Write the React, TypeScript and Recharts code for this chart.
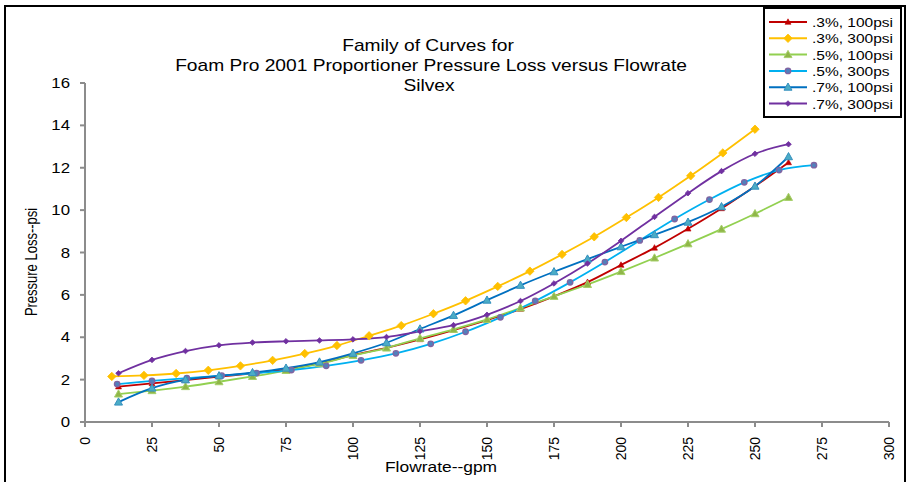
import { LineChart, Line, XAxis, YAxis, Legend } from 'recharts'

// flowrate (gpm) sample points, per series family
const gpmStep125 = [12.5, 25, 37.5, 50, 62.5, 75, 87.5, 100, 112.5, 125, 137.5, 150, 162.5, 175, 187.5, 200, 212.5, 225, 237.5, 250, 262.5]
const gpmYellow = [10, 22, 34, 46, 58, 70, 82, 94, 106, 118, 130, 142, 154, 166, 178, 190, 202, 214, 226, 238, 250]
const gpmLightBlue = [12, 25, 38, 51, 64, 77, 90, 103, 116, 129, 142, 155, 168, 181, 194, 207, 220, 233, 246, 259, 272]

// pressure loss (psi)
const p3_100 = [1.67, 1.82, 1.98, 2.14, 2.3, 2.48, 2.77, 3.16, 3.5, 3.9, 4.34, 4.81, 5.33, 5.93, 6.6, 7.41, 8.22, 9.12, 10.08, 11.13, 12.25]
const p3_300 = [2.15, 2.2, 2.29, 2.44, 2.65, 2.91, 3.23, 3.61, 4.07, 4.55, 5.11, 5.72, 6.4, 7.12, 7.91, 8.74, 9.65, 10.6, 11.62, 12.7, 13.82]
const p5_100 = [1.32, 1.48, 1.67, 1.9, 2.15, 2.43, 2.75, 3.14, 3.49, 3.95, 4.37, 4.84, 5.38, 5.93, 6.49, 7.1, 7.74, 8.41, 9.1, 9.83, 10.6]
const p5_300 = [1.79, 1.94, 2.07, 2.19, 2.31, 2.45, 2.65, 2.91, 3.24, 3.69, 4.26, 4.94, 5.71, 6.59, 7.55, 8.57, 9.58, 10.5, 11.31, 11.89, 12.12]
const p7_100 = [0.94, 1.6, 1.99, 2.18, 2.33, 2.54, 2.83, 3.24, 3.74, 4.39, 5.03, 5.75, 6.45, 7.09, 7.69, 8.27, 8.84, 9.43, 10.16, 11.13, 12.52]
const p7_300 = [2.3, 2.93, 3.35, 3.62, 3.75, 3.81, 3.85, 3.9, 4.01, 4.28, 4.57, 5.06, 5.71, 6.54, 7.48, 8.55, 9.68, 10.8, 11.84, 12.66, 13.11]

const xTicks = [0, 25, 50, 75, 100, 125, 150, 175, 200, 225, 250, 275, 300]
const yTicks = [0, 2, 4, 6, 8, 10, 12, 14, 16]

const FONT = '"Liberation Sans", Arial, sans-serif'

const toPoints = (xs: number[], ys: number[]) => xs.map((x, i) => ({ x, y: ys[i] }))

type MarkerKind = 'triSmall' | 'tri' | 'diamond' | 'diamondSmall' | 'circle'

const SERIES = [
  { name: '.3%, 100psi', xs: gpmStep125, ys: p3_100, color: '#C00000', marker: 'triSmall' as MarkerKind, fill: '#C00000', edge: '#C00000' },
  { name: '.3%, 300psi', xs: gpmYellow, ys: p3_300, color: '#FFC000', marker: 'diamond' as MarkerKind, fill: '#FFC000', edge: '#FFC000' },
  { name: '.5%, 100psi', xs: gpmStep125, ys: p5_100, color: '#92D050', marker: 'tri' as MarkerKind, fill: '#8FB648', edge: '#A6CF6A' },
  { name: '.5%, 300ps', xs: gpmLightBlue, ys: p5_300, color: '#00B0F0', marker: 'circle' as MarkerKind, fill: '#4F81BD', edge: '#8064A2' },
  { name: '.7%, 100psi', xs: gpmStep125, ys: p7_100, color: '#0070C0', marker: 'tri' as MarkerKind, fill: '#4BACC6', edge: '#3590BE' },
  { name: '.7%, 300psi', xs: gpmStep125, ys: p7_300, color: '#7030A0', marker: 'diamondSmall' as MarkerKind, fill: '#7030A0', edge: '#7030A0' },
]

function Marker({ kind, cx, cy, fill, edge }: { kind: MarkerKind; cx: number; cy: number; fill: string; edge: string }) {
  if (kind === 'circle') return <circle cx={cx} cy={cy} r={2.7} fill={fill} stroke={edge} strokeWidth={1.4} />
  if (kind === 'diamond' || kind === 'diamondSmall') {
    const h = kind === 'diamond' ? 4.2 : 2.8
    return <polygon points={`${cx},${cy - h} ${cx + h},${cy} ${cx},${cy + h} ${cx - h},${cy}`} fill={fill} stroke={edge} strokeWidth={0.8} />
  }
  const w = kind === 'tri' ? 4 : 3
  const t = kind === 'tri' ? 4.2 : 3.2
  const b = kind === 'tri' ? 3 : 2.3
  return <polygon points={`${cx},${cy - t} ${cx + w},${cy + b} ${cx - w},${cy + b}`} fill={fill} stroke={edge} strokeWidth={kind === 'tri' ? 1 : 0.6} />
}

const XTick = (props: any) => {
  const { x, y, payload } = props
  const ax = x + 5
  const ay = y + 8
  return (
    <text x={ax} y={ay} transform={`rotate(-90, ${ax}, ${ay})`} textAnchor="end" fontSize={14} fontFamily={FONT} fill="#000">
      {payload.value}
    </text>
  )
}

const YTick = (props: any) => {
  const { x, y, payload } = props
  return (
    <g transform={`translate(${x},${y}) scale(1.2,1)`}>
      <text x={0} y={0} dy={5} textAnchor="end" fontSize={14} fontFamily={FONT} fill="#000">
        {payload.value}
      </text>
    </g>
  )
}

const LegendBox = () => (
  <svg width={140} height={112} style={{ display: 'block' }}>
    <rect x={1} y={1} width={137} height={109} fill="#fff" stroke="#000" strokeWidth={2} />
    {SERIES.map((s, i) => {
      const cy = 15 + i * 16.3
      return (
        <g key={s.name}>
          <line x1={6} x2={44} y1={cy} y2={cy} stroke={s.color} strokeWidth={2} />
          <Marker kind={s.marker} cx={25} cy={cy} fill={s.fill} edge={s.edge} />
          <g transform={`translate(49,${cy + 5}) scale(1.15,1)`}>
            <text x={0} y={0} fontSize={13.5} fontFamily={FONT} fill="#000">{s.name}</text>
          </g>
        </g>
      )
    })}
  </svg>
)

export default function App() {
  return (
    <div style={{ position: 'absolute', left: 0, top: 0, width: 911, height: 482, background: '#fff', overflow: 'hidden' }}>
      <LineChart width={911} height={482} margin={{ top: 83, right: 22, left: 25, bottom: 10 }}>
        <XAxis
          type="number"
          dataKey="x"
          domain={[0, 300]}
          ticks={xTicks}
          interval={0}
          height={50}
          stroke="#8c8c8c"
          strokeWidth={2}
          tickSize={5}
          tick={<XTick />}
          allowDuplicatedCategory={false}
        />
        <YAxis
          type="number"
          domain={[0, 16]}
          ticks={yTicks}
          interval={0}
          width={60}
          stroke="#8c8c8c"
          strokeWidth={2}
          tickSize={5}
          tickMargin={10}
          tick={<YTick />}
        />
        <Legend
          layout="vertical"
          align="center"
          verticalAlign="middle"
          wrapperStyle={{ position: 'absolute', left: 763, top: 7, width: 140, height: 112 }}
          content={() => <LegendBox />}
        />
        {SERIES.map((s) => (
          <Line
            key={s.name}
            name={s.name}
            data={toPoints(s.xs, s.ys)}
            dataKey="y"
            type="monotone"
            stroke={s.color}
            strokeWidth={1.8}
            isAnimationActive={false}
            dot={(p: any) => <Marker key={`${s.name}-${p.index}`} kind={s.marker} cx={p.cx} cy={p.cy} fill={s.fill} edge={s.edge} />}
            activeDot={false}
          />
        ))}
      </LineChart>
      <svg width={911} height={482} style={{ position: 'absolute', left: 0, top: 0, pointerEvents: 'none' }}>
        <path d="M5,490 L5,6 L905,6 L905,490" fill="none" stroke="#000" strokeWidth={2} />
        <g fontFamily={FONT} fontSize={16} fill="#000">
          <g transform="translate(428,51) scale(1.2,1)">
            <text textAnchor="middle">Family of Curves for</text>
          </g>
          <g transform="translate(431,71) scale(1.2,1)">
            <text textAnchor="middle">Foam Pro 2001 Proportioner Pressure Loss versus Flowrate</text>
          </g>
          <g transform="translate(429,91) scale(1.2,1)">
            <text textAnchor="middle">Silvex</text>
          </g>
        </g>
        <g transform="translate(441,472) scale(1.2,1)">
          <text textAnchor="middle" fontFamily={FONT} fontSize={14.5} fill="#000">Flowrate--gpm</text>
        </g>
        <g transform="translate(37,262) rotate(-90) scale(1,1.2)">
          <text textAnchor="middle" fontFamily={FONT} fontSize={13} fill="#000">Pressure Loss--psi</text>
        </g>
      </svg>
    </div>
  )
}
